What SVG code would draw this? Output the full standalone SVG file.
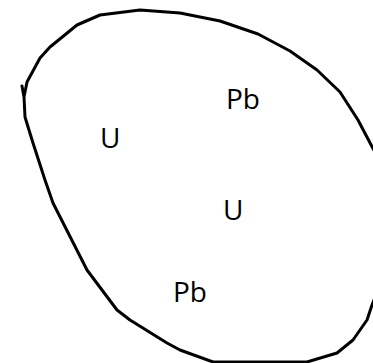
<svg xmlns="http://www.w3.org/2000/svg" width="373" height="363" viewBox="0 0 373 363">
<style>
.blob{fill:none;stroke:#000;stroke-width:3;stroke-linejoin:round;stroke-linecap:round}
.lbl{font-family:"Open Sans",sans-serif;font-size:28px;fill:#000}
</style>
<rect width="373" height="363" fill="#fff"/>
<g id="boundary">
<path class="blob" d="M22,86 L24,97 L27,82 L40,58 L50,47 L77,25 L100,15 L140,10 L180,13 L220,21 L258,34 L290,51 L317,70 L340,92 L358,120 L378,158 L378,290 L372,305 L367,320 L353,340 L337,353 L307,362 L213,362 L180,350 L167,343 L130,320 L117,310 L87,270 L53,203 L45,180 L33,143 L25,117 L24,97"/>
</g>
<g id="pb1"><text class="lbl" x="226" y="109">Pb</text></g>
<g id="u1"><text class="lbl" x="100" y="148">U</text></g>
<g id="u2"><text class="lbl" x="223" y="220">U</text></g>
<g id="pb2"><text class="lbl" x="173" y="302">Pb</text></g>
</svg>
